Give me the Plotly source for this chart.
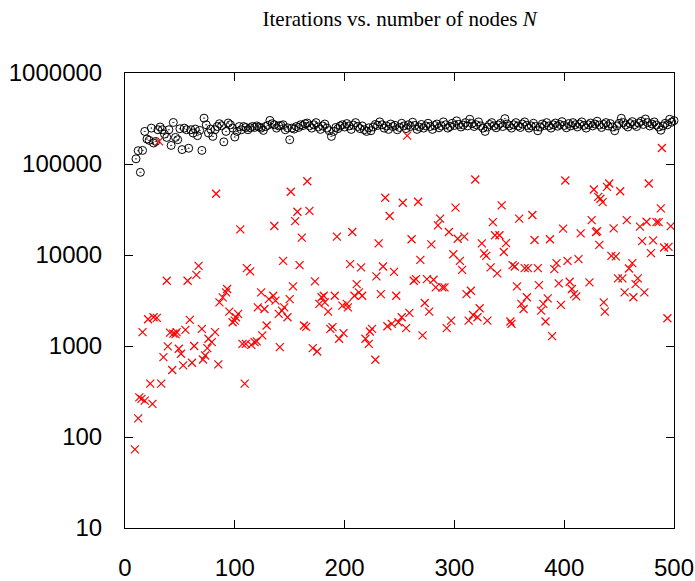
import plotly.graph_objects as go

# ---- data: black circles (N = 10, 12, ..., 500) ----
circle_N = list(range(10, 502, 2))
circle_iter = [
    114000, 140000, 81000, 141000, 228000, 188000, 182000, 248000, 170000, 177000,
    238000, 255000, 238000, 213000, 196000, 238000, 160000, 286000, 196000, 185000,
    244000, 144000, 248000, 238000, 149000, 238000, 219000, 242000, 205000, 234000,
    141000, 319000, 270000, 219000, 242000, 201000, 238000, 258000, 277000, 263000,
    175000, 228000, 282000, 270000, 248000, 198000, 228000, 258000, 238000, 258000,
    252000, 238000, 250000, 258000, 252000, 262000, 255000, 248000, 234000, 258000,
    266000, 301000, 277000, 270000, 248000, 262000, 265000, 270000, 238000, 250000,
    185000, 248000, 242000, 258000, 252000, 270000, 264000, 277000, 282000, 262000,
    248000, 270000, 285000, 255000, 240000, 262000, 275000, 248000, 232000, 201000,
    228000, 252000, 245000, 262000, 270000, 255000, 278000, 262000, 240000, 268000,
    285000, 258000, 245000, 262000, 238000, 228000, 250000, 232000, 255000, 272000,
    265000, 290000, 270000, 248000, 262000, 240000, 275000, 258000, 266000, 238000,
    252000, 280000, 262000, 245000, 270000, 258000, 288000, 265000, 240000, 255000,
    272000, 248000, 262000, 280000, 258000, 240000, 265000, 275000, 250000, 262000,
    290000, 270000, 248000, 258000, 280000, 265000, 298000, 272000, 255000, 268000,
    285000, 262000, 310000, 278000, 258000, 270000, 290000, 262000, 248000, 228000,
    255000, 272000, 285000, 262000, 250000, 268000, 280000, 258000, 315000, 275000,
    262000, 248000, 270000, 285000, 262000, 252000, 275000, 290000, 265000, 248000,
    262000, 280000, 258000, 232000, 255000, 275000, 265000, 285000, 262000, 248000,
    270000, 282000, 260000, 272000, 292000, 265000, 250000, 278000, 262000, 285000,
    270000, 255000, 275000, 290000, 265000, 248000, 270000, 282000, 262000, 275000,
    295000, 268000, 252000, 272000, 285000, 262000, 278000, 255000, 232000, 262000,
    280000, 318000, 285000, 268000, 255000, 278000, 292000, 270000, 258000, 282000,
    295000, 272000, 312000, 285000, 262000, 275000, 290000, 268000, 255000, 235000,
    262000, 280000, 270000, 310000, 288000, 300000,
]

# ---- data: red crosses ----
cross_N = [
    9, 12, 13, 15, 16, 18, 21, 23, 25, 26, 29, 31, 33, 35, 38, 39, 41, 43, 44, 46,
    47, 49, 51, 53, 55, 57, 59, 61, 63, 65, 67, 70, 71, 73, 75, 76, 79, 82, 83, 85,
    86, 89, 92, 93, 95, 98, 100, 101, 103, 105, 107, 109, 110, 111, 114, 115, 118, 120, 121, 124,
    125, 127, 129, 131, 135, 136, 137, 140, 141, 143, 144, 145, 148, 150, 151, 153, 155, 157, 159, 161,
    163, 165, 166, 168, 171, 173, 175, 177, 179, 181, 182, 185, 187, 189, 191, 193, 195, 198, 199, 202,
    203, 205, 207, 209, 211, 213, 215, 216, 219, 222, 223, 225, 228, 229, 231, 233, 235, 237, 239, 241,
    243, 245, 247, 249, 252, 253, 256, 257, 259, 261, 263, 265, 267, 269, 271, 273, 275, 277, 279, 281,
    283, 285, 287, 289, 291, 293, 295, 297, 299, 301, 303, 305, 307, 309, 311, 313, 315, 317, 319, 321,
    323, 325, 327, 329, 330, 333, 335, 337, 339, 341, 343, 345, 347, 351, 352, 353, 355, 357, 359, 361,
    363, 364, 366, 367, 371, 373, 376, 377, 379, 381, 383, 385, 387, 389, 391, 393, 395, 397, 399, 401,
    403, 405, 407, 409, 411, 413, 415, 423, 425, 427, 429, 430, 431, 432, 433, 435, 436, 437, 439, 441,
    443, 445, 447, 449, 451, 453, 455, 457, 459, 462, 463, 465, 467, 469, 471, 473, 475, 477, 479, 481,
    484, 486, 488, 489, 491, 494, 495, 497,
]
cross_val = [
    73, 160, 273, 262, 1419, 251, 1968, 386, 231, 2070, 2040, 177000, 386, 755, 5210, 990, 1400, 545, 1370, 1350,
    1420, 933, 822, 612, 1503, 5210, 1936, 655, 1000, 6050, 7600, 1542, 711, 787, 948, 1200, 1104, 1419, 47100, 628,
    3020, 3428, 3890, 4230, 2388, 1824, 1900, 2070, 2250, 19150, 1057, 386, 1057, 7170, 6600, 1030, 1104, 1122, 2660, 3890,
    1306, 2553, 1679, 3280, 3570, 20850, 3150, 2250, 973, 2450, 8630, 2660, 2070, 3280, 49500, 4520, 23600, 29900, 7730, 15500,
    1680, 1620, 64700, 30500, 948, 5130, 871, 2900, 3430, 3570, 3020, 2390, 1542, 1610, 3570, 15900, 1200, 2775, 1384, 2900,
    2660, 7940, 17900, 3570, 4790, 3890, 7300, 3570, 1200, 1057, 1442, 1542, 706, 5820, 13400, 3720, 7480, 42600, 1650, 26800,
    1750, 6530, 3570, 1824, 2070, 37500, 1570, 205000, 2310, 14900, 5210, 5430, 38500, 8850, 1306, 2970, 5430, 2390, 13100, 5340,
    4400, 21200, 25100, 4400, 4400, 1570, 17900, 1900, 10200, 33100, 15100, 8630, 6870, 15900, 3720, 1900, 4050, 2190, 67500, 2070,
    2600, 13400, 10400, 9800, 1900, 7300, 23000, 16500, 6280, 16500, 35100, 10800, 13500, 1860, 1750, 7730, 7480, 4520, 25100, 2900,
    2550, 7170, 3430, 7170, 27500, 14600, 7170, 4670, 2450, 2900, 1860, 3340, 14900, 1285, 7000, 8130, 4880, 2830, 19500, 65800,
    8630, 5080, 4230, 3720, 3510, 9000, 17300, 5010, 24200, 52500, 17900, 18300, 43600, 12900, 41500, 38100, 3020, 2390, 56100, 61000,
    9780, 19600, 9640, 5530, 50200, 5530, 3890, 24200, 7110, 8130, 3430, 4790, 5530, 20500, 14200, 3890, 23200, 61000, 10500, 14500,
    23000, 23000, 32500, 150000, 12100, 2020, 12300, 20800,
]

y_tick_vals = [10, 100, 1000, 10000, 100000, 1000000]
y_tick_text = ["10", "100", "1000", "10000", "100000", "1000000"]
x_tick_vals = [0, 100, 200, 300, 400, 500]

fig = go.Figure()
fig.add_trace(go.Scatter(
    x=circle_N, y=circle_iter, mode="markers", cliponaxis=False,
    marker=dict(symbol="circle-open-dot", size=8, color="black", line=dict(width=1, color="black")),
    showlegend=False,
))
fig.add_trace(go.Scatter(
    x=cross_N, y=cross_val, mode="markers", cliponaxis=False,
    marker=dict(symbol="x-thin", size=8, color="red", line=dict(width=1.2, color="red")),
    showlegend=False,
))

tick_font = dict(family="Liberation Sans", size=24, color="black")

fig.update_layout(
    width=695, height=581,
    margin=dict(l=125, r=21, t=73, b=53, autoexpand=False),
    paper_bgcolor="white", plot_bgcolor="white",
    title=dict(text="Iterations vs. number of nodes <i>N</i>", x=0.575, xanchor="center",
               y=1 - 19 / 581, yanchor="middle",
               font=dict(family="Liberation Serif", size=21, color="black")),
    font=tick_font,
)
fig.update_xaxes(
    range=[0, 500], tickvals=x_tick_vals, ticks="inside", ticklen=8, tickcolor="black",
    showline=True, linecolor="black", linewidth=1, mirror="ticks", showgrid=False, zeroline=False,
    ticklabelstandoff=18, automargin=False, ticklabeloverflow="allow", tickfont=tick_font,
)
fig.update_yaxes(
    type="log", range=[1, 6], tickvals=y_tick_vals, ticktext=y_tick_text, ticks="inside", ticklen=8,
    tickcolor="black", showline=True, linecolor="black", linewidth=1, mirror="ticks", showgrid=False,
    zeroline=False, ticklabelstandoff=17, automargin=False, ticklabeloverflow="allow", tickfont=tick_font,
)

fig.write_html(
    "out.html",
    config={"displayModeBar": False},
    post_script="document.body.style.margin='0';document.body.style.overflow='hidden';",
)
